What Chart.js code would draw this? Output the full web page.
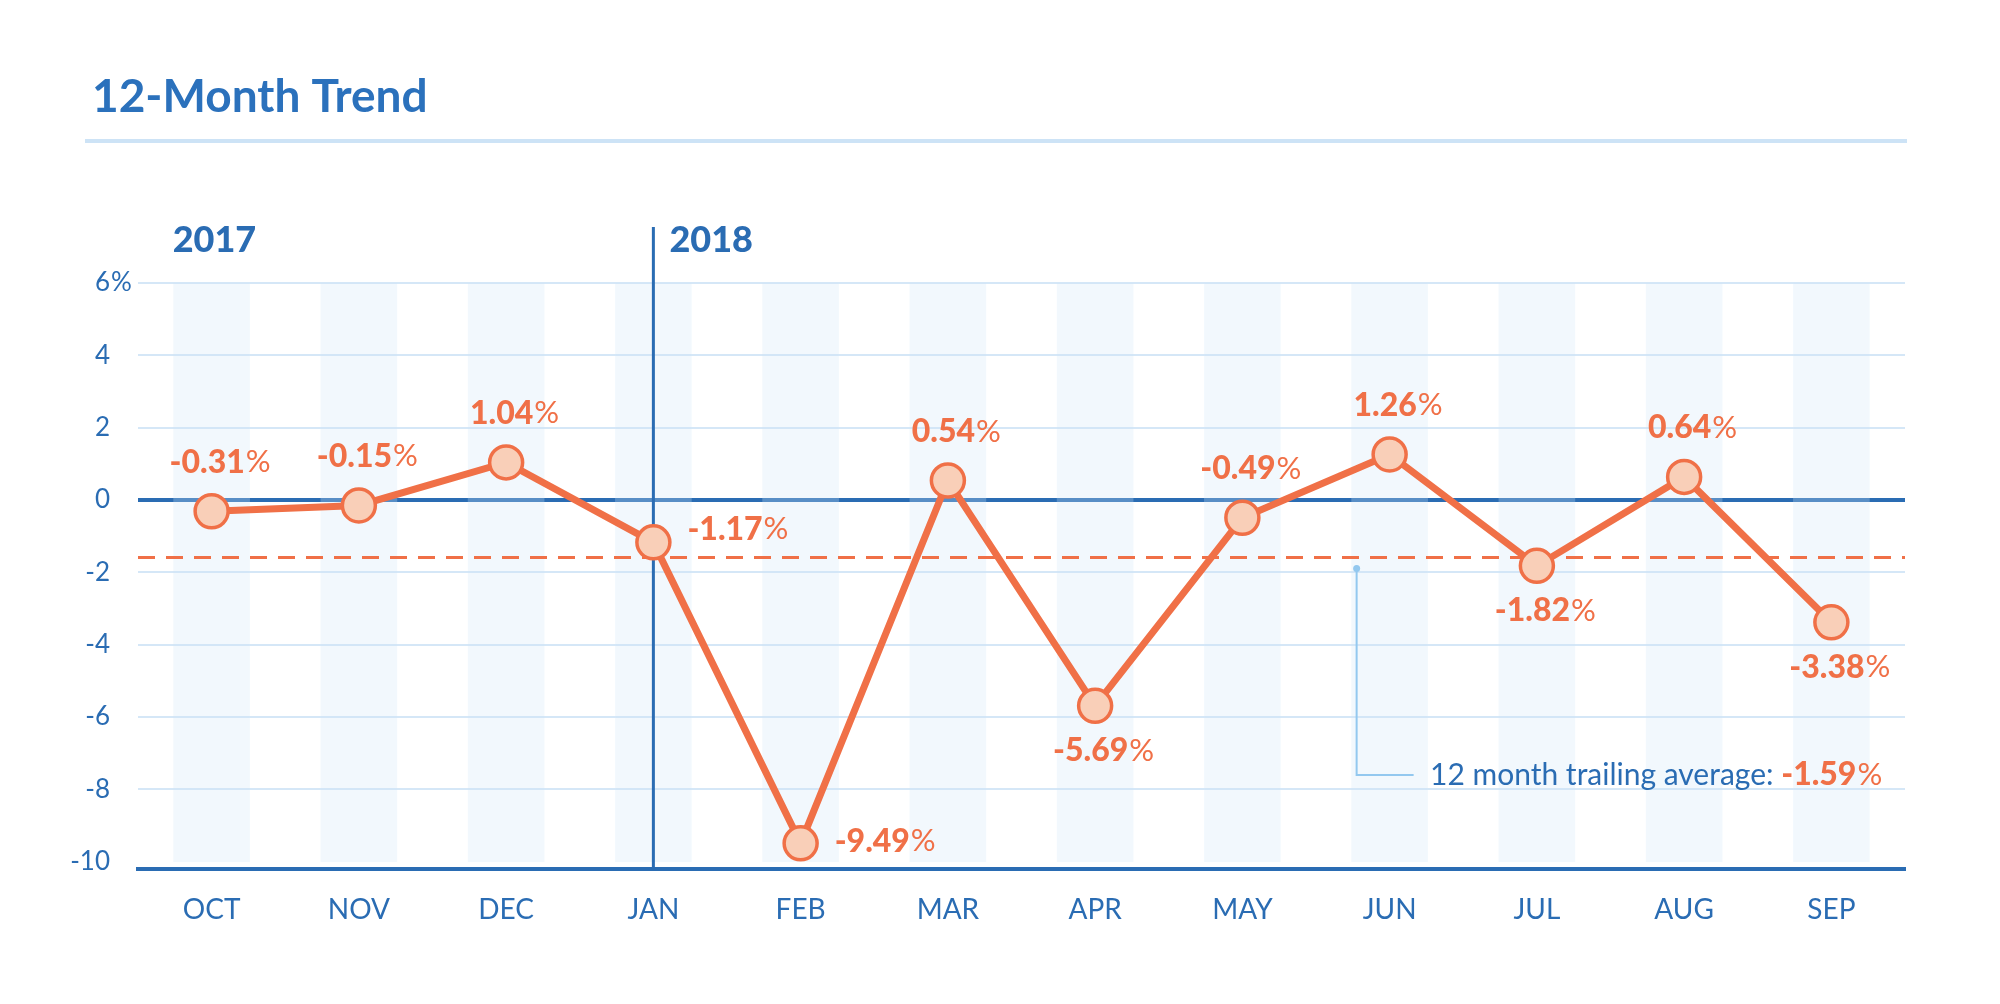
<!DOCTYPE html>
<html>
<head>
<meta charset="utf-8">
<title>12-Month Trend</title>
<script src="https://cdn.jsdelivr.net/npm/chart.js@4.4.0/dist/chart.umd.min.js"></script>
<style>
  html, body { margin: 0; padding: 0; background: #fff; }
  #trendChart { display: block; }
</style>
</head>
<body>
<canvas id="trendChart" width="2000" height="1004"></canvas>
<script>
// chart data
const months = ['OCT', 'NOV', 'DEC', 'JAN', 'FEB', 'MAR', 'APR', 'MAY', 'JUN', 'JUL', 'AUG', 'SEP'];
const monthlyChange = [-0.31, -0.15, 1.04, -1.17, -9.49, 0.54, -5.69, -0.49, 1.26, -1.82, 0.64, -3.38];
const yTickValues = [6, 4, 2, 0, -2, -4, -6, -8, -10];
const trailingAverage = -1.59;
const yearLabels = ['2017', '2018'];
const yearStartIndex = [0, 3];
const bandRange = [-10, 6];

const DARK = '#2a6cb3';
const GRID = '#d5e7f7';
const ORANGE = '#f07047';
const PEACH = '#f9cfb8';

// where each value label sits relative to its point
const labelSide = ['top', 'top', 'top', 'right', 'right', 'top', 'bottom', 'top', 'top', 'bottom', 'top', 'bottom'];

const extrasPlugin = {
    id: 'extras',
    beforeDraw(chart) {
        const ctx = chart.ctx;
        ctx.save();
        ctx.fillStyle = '#2b71bc';
        ctx.font = '700 46px Lato';
        ctx.textBaseline = 'alphabetic';
        ctx.fillText('12-Month Trend', 92, 112);
        ctx.fillStyle = '#cde3f6';
        ctx.fillRect(85, 139, 1822, 4);
        ctx.restore();
    },
    beforeDatasetDraw(chart, args) {
        if (args.meta.type !== 'line') return;
        const ctx = chart.ctx;
        const x = chart.scales.x, y = chart.scales.y;
        const area = chart.chartArea;
        ctx.save();
        // trailing average
        const ay = y.getPixelForValue(trailingAverage);
        ctx.strokeStyle = ORANGE;
        ctx.lineWidth = 3;
        ctx.setLineDash([17, 11]);
        ctx.beginPath();
        ctx.moveTo(area.left, ay);
        ctx.lineTo(area.right, ay);
        ctx.stroke();
        ctx.setLineDash([]);
        // year divider
        const dx = x.getPixelForValue(yearStartIndex[1]);
        ctx.strokeStyle = DARK;
        ctx.lineWidth = 3;
        ctx.beginPath();
        ctx.moveTo(dx, 227);
        ctx.lineTo(dx, area.bottom);
        ctx.stroke();
        // annotation connector
        const cx = x.getPixelForValue(8) - 33;
        ctx.strokeStyle = '#93c8ef';
        ctx.lineWidth = 2;
        ctx.beginPath();
        ctx.moveTo(cx, ay + 11);
        ctx.lineTo(cx, 775);
        ctx.lineTo(cx + 57, 775);
        ctx.stroke();
        ctx.fillStyle = '#93c8ef';
        ctx.beginPath();
        ctx.arc(cx, ay + 11, 3.5, 0, Math.PI * 2);
        ctx.fill();
        ctx.restore();
    },
    afterDatasetsDraw(chart) {
        const ctx = chart.ctx;
        const x = chart.scales.x, y = chart.scales.y;
        const meta = chart.getDatasetMeta(1);
        ctx.save();
        ctx.textBaseline = 'middle';
        const numFont = '900 32px Lato';
        const pctFont = '400 31px Lato';
        meta.data.forEach((pt, i) => {
            const num = monthlyChange[i].toFixed(2);
            ctx.font = numFont;
            const wn = ctx.measureText(num).width;
            ctx.font = pctFont;
            const wp = ctx.measureText('%').width;
            let sx, sy;
            if (labelSide[i] === 'top') {
                sx = pt.x + 8 - (wn + wp) / 2;
                sy = pt.y - 49;
            } else if (labelSide[i] === 'bottom') {
                sx = pt.x + 8 - (wn + wp) / 2;
                sy = pt.y + 45;
            } else {
                sx = pt.x + 34;
                sy = pt.y - (i === 3 ? 13 : 2);
            }
            ctx.fillStyle = ORANGE;
            ctx.textAlign = 'left';
            ctx.font = numFont;
            ctx.fillText(num, sx, sy);
            ctx.font = pctFont;
            ctx.fillText('%', sx + wn + 1, sy);
        });

        // year labels
        ctx.fillStyle = DARK;
        ctx.font = '900 36px Lato';
        ctx.textBaseline = 'alphabetic';
        ctx.fillText(yearLabels[0], x.getPixelForValue(yearStartIndex[0]) - 39, 252);
        ctx.fillText(yearLabels[1], x.getPixelForValue(yearStartIndex[1]) + 16, 252);

        // % after top y tick
        ctx.font = '400 26px Lato';
        ctx.textBaseline = 'middle';
        ctx.fillText('%', 111, y.getPixelForValue(yTickValues[0]));

        // trailing average text
        ctx.font = '400 30px Lato';
        const txt = '12 month trailing average: ';
        ctx.fillText(txt, 1430, 775);
        const tw = ctx.measureText(txt).width;
        const avgNum = trailingAverage.toFixed(2);
        ctx.fillStyle = ORANGE;
        ctx.font = '900 32px Lato';
        ctx.fillText(avgNum, 1430 + tw, 775);
        const aw = ctx.measureText(avgNum).width;
        ctx.font = '400 31px Lato';
        ctx.fillText('%', 1430 + tw + aw + 1, 775);
        ctx.restore();
    }
};

const ctx = document.getElementById('trendChart');
ctx.chart = new Chart(ctx, {
    type: 'line',
    data: {
        labels: months,
        datasets: [
            {
                type: 'bar',
                data: months.map(() => bandRange),
                backgroundColor: 'rgba(210,230,247,0.28)',
                barThickness: 76,
                grouped: false,
                order: 2
            },
            {
                type: 'line',
                data: monthlyChange,
                borderColor: ORANGE,
                borderWidth: 7,
                pointRadius: 16.5,
                pointBackgroundColor: PEACH,
                pointBorderColor: ORANGE,
                pointBorderWidth: 3.5,
                tension: 0,
                order: 1
            }
        ]
    },
    options: {
        responsive: false,
        animation: false,
        layout: { padding: { top: 283, right: 95, left: 0, bottom: 0 } },
        plugins: { legend: { display: false }, tooltip: { enabled: false } },
        scales: {
            x: {
                offset: true,
                grid: { display: false, drawTicks: false },
                border: { display: true, color: DARK, width: 4 },
                ticks: { color: DARK, padding: 24, font: { family: 'Lato', size: 28 } },
                afterFit: s => { s.height = 135; }
            },
            y: {
                min: -10.2,
                max: 6,
                afterBuildTicks: s => { s.ticks = yTickValues.map(v => ({ value: v })); },
                afterFit: s => { s.width = 138; },
                border: { display: false },
                grid: {
                    drawTicks: false,
                    color: c => c.tick.value === 0 ? DARK : (c.tick.value === -10 ? 'rgba(0,0,0,0)' : GRID),
                    lineWidth: c => c.tick.value === 0 ? 4 : 2
                },
                ticks: {
                    color: DARK,
                    padding: 28,
                    font: { family: 'Lato', size: 26 },
                    callback: v => v
                }
            }
        }
    },
    plugins: [extrasPlugin]
});
</script>
</body>
</html>
